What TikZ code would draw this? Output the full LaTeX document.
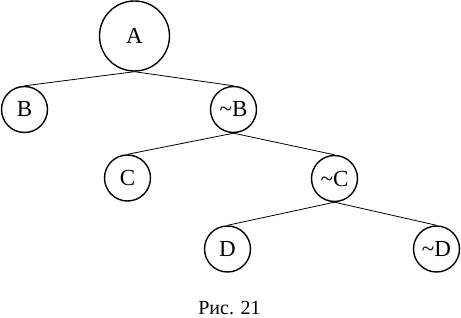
\documentclass[tikz,border=0pt]{standalone}
\usepackage{fontspec}
\setmainfont{Liberation Serif}
\begin{document}
\begin{tikzpicture}[x=1pt, y=-1pt, font=\fontsize{23}{26}\selectfont,
		vertex/.style={circle, draw, line width=1.4pt, inner sep=0pt, minimum size=46pt},
		edge/.style={line width=0.8pt}]
		\useasboundingbox (0,0) rectangle (461,318);
		% root
		\node[vertex, minimum size=70pt] (A) at (134.5,36) {A};
		% level 1
		\node[vertex] (B) at (24.5,109.5) {B};
		\node[vertex] (nB) at (233.5,109.5) {\textasciitilde B};
		% level 2
		\node[vertex] (C) at (127.5,178) {C};
		\node[vertex] (nC) at (334.5,178.5) {\textasciitilde C};
		% level 3
		\node[vertex] (D) at (227.5,249) {D};
		\node[vertex] (nD) at (436.5,249) {\textasciitilde D};
		% edges
		\draw[edge] (A.south) -- (B.north);
		\draw[edge] (A.south) -- (nB.north);
		\draw[edge] (nB.south) -- (C.north);
		\draw[edge] (nB.south) -- (nC.north);
		\draw[edge] (nC.south) -- (D.north);
		\draw[edge] (nC.south) -- (nD.north);
		% caption
		\node[anchor=base, font=\fontsize{20}{23}\selectfont] (cap) at (229.5,314) {Рис. 21};
	\end{tikzpicture}
\end{document}
